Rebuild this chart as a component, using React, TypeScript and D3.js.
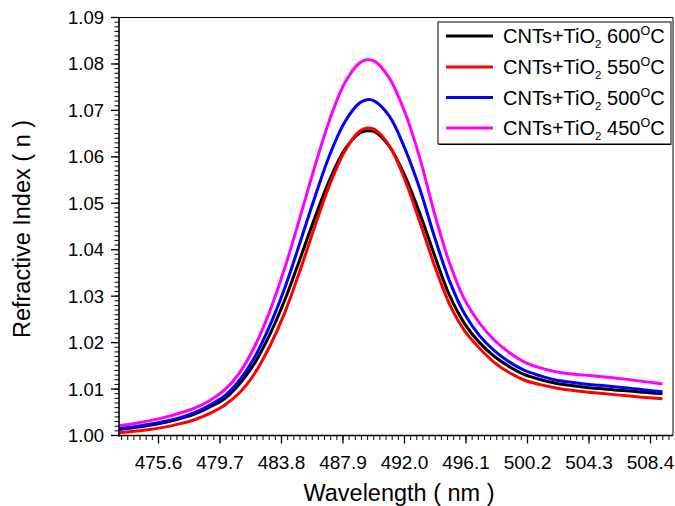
import React from "react";
import * as d3 from "d3";

const wavelengths = [473.0, 474, 475, 476, 477, 478, 479, 480, 481, 482, 483, 484, 485, 486, 487, 488, 489, 489.5, 490, 491, 492, 493, 494, 495, 496, 497, 498, 499, 500, 501, 502, 503, 504, 505, 506, 507, 508, 509.2];

const n600 = [1.0013, 1.0017, 1.0022, 1.0028, 1.0036, 1.0046, 1.0061, 1.0079, 1.0111, 1.0155, 1.0216, 1.0290, 1.0377, 1.0467, 1.0550, 1.0615, 1.0651, 1.0656, 1.0654, 1.0622, 1.0561, 1.0480, 1.0388, 1.0302, 1.0241, 1.0200, 1.0170, 1.0148, 1.0131, 1.0121, 1.0113, 1.0108, 1.0104, 1.0101, 1.0098, 1.0096, 1.0093, 1.0090];
const n550 = [1.0006, 1.0009, 1.0013, 1.0018, 1.0025, 1.0034, 1.0047, 1.0065, 1.0092, 1.0133, 1.0191, 1.0263, 1.0352, 1.0448, 1.0539, 1.0611, 1.0655, 1.0662, 1.0659, 1.0623, 1.0553, 1.0462, 1.0366, 1.0283, 1.0226, 1.0188, 1.0157, 1.0135, 1.0119, 1.0110, 1.0103, 1.0098, 1.0094, 1.0091, 1.0088, 1.0085, 1.0082, 1.0079];
const n500 = [1.0015, 1.0019, 1.0024, 1.0030, 1.0038, 1.0049, 1.0065, 1.0085, 1.0119, 1.0168, 1.0235, 1.0316, 1.0412, 1.0511, 1.0603, 1.0674, 1.0716, 1.0723, 1.0720, 1.0687, 1.0620, 1.0533, 1.0428, 1.0333, 1.0262, 1.0215, 1.0182, 1.0158, 1.0140, 1.0129, 1.0120, 1.0115, 1.0111, 1.0108, 1.0105, 1.0102, 1.0098, 1.0094];
const n450 = [1.0021, 1.0026, 1.0032, 1.0039, 1.0048, 1.0059, 1.0075, 1.0098, 1.0135, 1.0191, 1.0266, 1.0359, 1.0466, 1.0577, 1.0679, 1.0758, 1.0802, 1.0809, 1.0806, 1.0769, 1.0698, 1.0600, 1.0478, 1.0372, 1.0293, 1.0242, 1.0205, 1.0178, 1.0158, 1.0146, 1.0138, 1.0133, 1.0130, 1.0127, 1.0124, 1.0120, 1.0116, 1.0111];

const seriesNames = ["600", "550", "500", "450"];
const seriesColors = ["#000000", "#ff0000", "#0000ff", "#ff00ff"];
const seriesValues = [n600, n550, n500, n450];

const xTickLabels = ["475.6", "479.7", "483.8", "487.9", "492.0", "496.1", "500.2", "504.3", "508.4"];
const yTickLabels = ["1.00", "1.01", "1.02", "1.03", "1.04", "1.05", "1.06", "1.07", "1.08", "1.09"];

const W = 675, H = 506;
const m = { left: 119, right: 673, top: 17.5, bottom: 435.5 };
const FONT = "'Liberation Sans', Arial, sans-serif";
const X_MIN = 472.967, X_MAX = 509.9;

export default function App() {
  const x = d3.scaleLinear().domain([X_MIN, X_MAX]).range([m.left, m.right]);
  const y = d3.scaleLinear().domain([1.0, 1.09]).range([m.bottom, m.top]);

  const xMajor = xTickLabels.map(Number);
  const xMinor: number[] = [];
  for (let i = -6; i <= 83; i++) {
    const v = 475.6 + i * 0.41;
    if (v >= X_MIN && v <= X_MAX) xMinor.push(v);
  }
  const yMajor = yTickLabels.map(Number);
  const yMinor: number[] = [];
  for (let i = 0; i <= 90; i++) yMinor.push(1.0 + i * 0.001);

  const line = d3
    .line<number>()
    .x((_, i) => x(wavelengths[i]))
    .y((d) => y(d))
    .curve(d3.curveCatmullRom.alpha(0.5));

  const legendX = 438, legendY = 22, legendW = 233, legendH = 122;
  const rowY = [36, 67, 97.5, 128];

  return (
    <svg width={W} height={H} style={{ position: "absolute", left: 0, top: 0, background: "#fff" }} fontFamily={FONT}>
      <rect x={0} y={0} width={W} height={H} fill="#fff" />
      {/* frame */}
      <line x1={m.left} x2={m.right} y1={m.top} y2={m.top} stroke="#000" strokeWidth={1} />
      <line x1={m.right} x2={m.right} y1={m.top} y2={m.bottom} stroke="#000" strokeWidth={1} />
      {/* curves */}
      {seriesValues.map((vals, k) => (
        <path key={k} d={line(vals) || ""} fill="none" stroke={seriesColors[k]} strokeWidth={3} strokeLinejoin="round" />
      ))}
      {/* axes */}
      <line x1={m.left} x2={m.left} y1={m.top} y2={m.bottom + 1} stroke="#000" strokeWidth={1.6} />
      <line x1={m.left - 1} x2={m.right} y1={m.bottom} y2={m.bottom} stroke="#000" strokeWidth={1.6} />
      {xMinor.map((v, i) => (
        <line key={"xm" + i} x1={x(v)} x2={x(v)} y1={m.bottom} y2={m.bottom + 4.5} stroke="#000" strokeWidth={1} />
      ))}
      {xMajor.map((v, i) => (
        <line key={"xM" + i} x1={x(v)} x2={x(v)} y1={m.bottom} y2={m.bottom + 8} stroke="#000" strokeWidth={1.3} />
      ))}
      {xMajor.map((v, i) => (
        <text key={"xl" + i} x={x(v)} y={469} textAnchor="middle" fontSize={19} fill="#000">
          {xTickLabels[i]}
        </text>
      ))}
      {yMinor.map((v, i) => (
        <line key={"ym" + i} x1={m.left - 4.5} x2={m.left} y1={y(v)} y2={y(v)} stroke="#000" strokeWidth={1} />
      ))}
      {yMajor.map((v, i) => (
        <line key={"yM" + i} x1={m.left - 8} x2={m.left} y1={y(v)} y2={y(v)} stroke="#000" strokeWidth={1.3} />
      ))}
      {yMajor.map((v, i) => (
        <text key={"yl" + i} x={104} y={y(v) + 6.5} textAnchor="end" fontSize={18.5} fill="#000">
          {yTickLabels[i]}
        </text>
      ))}
      {/* axis titles */}
      <text x={399} y={501} textAnchor="middle" fontSize={23.5} fill="#000">
        Wavelength ( nm )
      </text>
      <text transform={`translate(30,${229}) rotate(-90)`} textAnchor="middle" fontSize={23.5} fill="#000">
        Refractive Index ( n )
      </text>
      {/* legend */}
      <rect x={legendX} y={legendY} width={legendW} height={legendH} fill="#fff" stroke="#000" strokeWidth={1} />
      <line x1={legendX + 1} x2={legendX + legendW} y1={legendY + legendH + 0.5} y2={legendY + legendH + 0.5} stroke="#000" strokeWidth={1} />
      {seriesNames.map((name, k) => (
        <g key={"lg" + k}>
          <line x1={446} x2={493} y1={rowY[k]} y2={rowY[k]} stroke={seriesColors[k]} strokeWidth={3} />
          <text x={503} y={rowY[k] + 7} fontSize={20} fill="#000">
            CNTs+TiO
            <tspan fontSize={11.5} dy={5}>2</tspan>
            <tspan dy={-5}>{" " + name}</tspan>
            <tspan fontSize={12.5} dy={-8}>O</tspan>
            <tspan dy={8}>C</tspan>
          </text>
        </g>
      ))}
    </svg>
  );
}
